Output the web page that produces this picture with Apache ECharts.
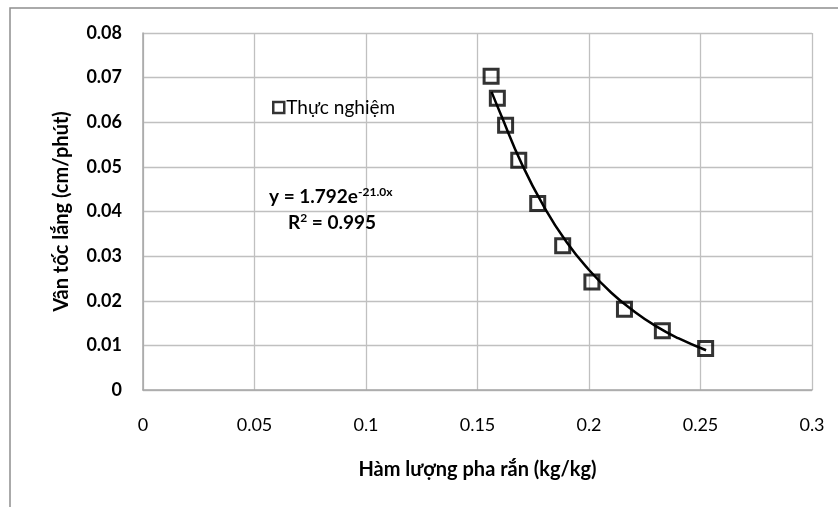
<!DOCTYPE html>
<html>
<head>
<meta charset="utf-8">
<script src="https://cdn.jsdelivr.net/npm/echarts@6/dist/echarts.min.js"></script>
<style>
  html, body { margin: 0; padding: 0; background: #fff; }
  #chart { width: 838px; height: 507px; }
</style>
</head>
<body>
<div id="chart"></div>
<script>
// measured points (solid content x, settling velocity)
const solidX = [0.1561, 0.1589, 0.1626, 0.1685, 0.1770, 0.1882, 0.2013, 0.2159, 0.2329, 0.2523];
const velocityY = [0.0703, 0.0654, 0.0593, 0.0515, 0.0418, 0.0323, 0.0242, 0.0181, 0.0133, 0.0093];

// exponential trendline
const trendX = [0.1563, 0.16, 0.17, 0.18, 0.19, 0.20, 0.21, 0.22, 0.23, 0.24, 0.2525];
const trendY = [0.0668, 0.0623, 0.0505, 0.0409, 0.0331, 0.0269, 0.0218, 0.0177, 0.0143, 0.0116, 0.0089];

const xTicks = [0, 0.05, 0.1, 0.15, 0.2, 0.25, 0.3];
const yTicks = [0, 0.01, 0.02, 0.03, 0.04, 0.05, 0.06, 0.07, 0.08];

const FONT = "Lato, 'Open Sans', sans-serif";

const dom = document.getElementById("chart");
const myChart = echarts.init(dom);

const option = {
  animation: false,
  backgroundColor: "#fff",
  grid: {
    left: 143,
    right: 26,
    top: 33,
    bottom: 117,
  },
  legend: {
    data: ["Thực nghiệm"],
    left: 267,
    top: 93,
    icon: "rect",
    itemWidth: 11,
    itemHeight: 11,
    itemGap: 4,
    itemStyle: {
      color: "#fff",
      borderColor: "#000",
      borderWidth: 2.5,
    },
    textStyle: {
      fontFamily: FONT,
      fontSize: 19,
      color: "#000",
      padding: [0, 0, 0, -3],
    },
  },
  xAxis: {
    type: "value",
    min: 0,
    max: 0.3,
    interval: 0.05,
    name: "Hàm lượng pha rắn (kg/kg)",
    nameLocation: "middle",
    nameGap: 70,
    nameTextStyle: {
      fontFamily: FONT,
      fontSize: 20,
      fontWeight: "bold",
      color: "#000",
    },
    axisLine: { show: true, lineStyle: { color: "#a6a6a6", width: 1.5 } },
    axisTick: { show: false },
    axisLabel: {
      margin: 26,
      fontFamily: FONT,
      fontSize: 18,
      color: "#000",
      formatter: (v) => {
        const t = xTicks.find((k) => Math.abs(k - v) < 1e-9);
        return t === undefined ? "" : String(t);
      },
    },
    splitLine: { show: true, lineStyle: { color: "#c0c0c0", width: 1.3 } },
  },
  yAxis: {
    type: "value",
    min: 0,
    max: 0.08,
    interval: 0.01,
    name: "Vân tốc lắng (cm/phút)",
    nameLocation: "middle",
    nameGap: 71,
    nameTextStyle: {
      fontFamily: FONT,
      fontSize: 20,
      fontWeight: "bold",
      color: "#000",
    },
    axisLine: { show: true, lineStyle: { color: "#a6a6a6", width: 1.5 } },
    axisTick: { show: false },
    axisLabel: {
      margin: 21,
      fontFamily: FONT,
      fontSize: 18,
      fontWeight: "bold",
      color: "#000",
      formatter: (v) => {
        const t = yTicks.find((k) => Math.abs(k - v) < 1e-9);
        return t === undefined ? "" : (t === 0 ? "0" : t.toFixed(2));
      },
    },
    splitLine: { show: true, lineStyle: { color: "#c0c0c0", width: 1.3 } },
  },
  graphic: [
    {
      type: "rect",
      silent: true,
      shape: { x: 10, y: 8, width: 1000, height: 800 },
      style: { fill: "none", stroke: "#8f8f8f", lineWidth: 1.5 },
      z: 100,
    },
    {
      type: "text",
      left: 269,
      top: 186,
      style: {
        text: "{b|y = 1.792e}{s|-21.0x}",
        rich: {
          b: { fontFamily: FONT, fontSize: 19, fontWeight: "bold", fill: "#000" },
          s: { fontFamily: FONT, fontSize: 12, fontWeight: "bold", fill: "#000", padding: [0, 0, 10, 0] },
        },
      },
      z: 100,
    },
    {
      type: "text",
      left: 288,
      top: 212,
      style: {
        text: "{b|R}{s|2}{b| = 0.995}",
        rich: {
          b: { fontFamily: FONT, fontSize: 19, fontWeight: "bold", fill: "#000" },
          s: { fontFamily: FONT, fontSize: 12, fontWeight: "bold", fill: "#000", padding: [0, 0, 10, 0] },
        },
      },
      z: 100,
    },
  ],
  series: [
    {
      name: "Trendline",
      type: "line",
      data: trendX.map((x, i) => [x, trendY[i]]),
      smooth: true,
      showSymbol: false,
      lineStyle: { color: "#000", width: 2.5 },
      z: 2,
    },
    {
      name: "Thực nghiệm",
      type: "scatter",
      data: solidX.map((x, i) => [x, velocityY[i]]),
      symbol: "rect",
      symbolSize: 14,
      itemStyle: {
        color: "rgba(0,0,0,0)",
        borderColor: "#000",
        borderWidth: 3,
      },
      z: 3,
    },
  ],
};

myChart.setOption(option);
</script>
</body>
</html>
